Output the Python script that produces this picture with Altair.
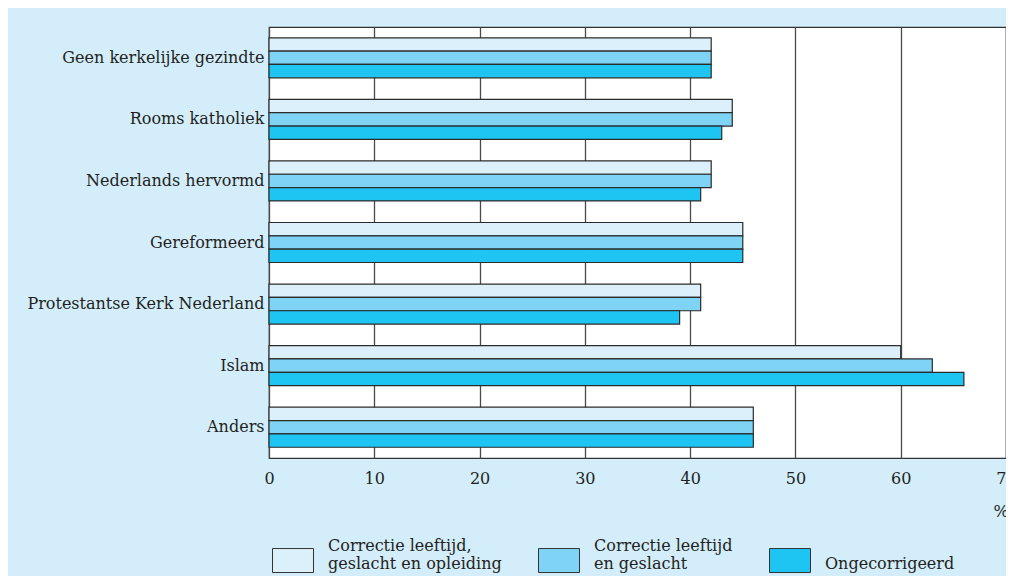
import altair as alt
import pandas as pd

categories = [
    "Geen kerkelijke gezindte",
    "Rooms katholiek",
    "Nederlands hervormd",
    "Gereformeerd",
    "Protestantse Kerk Nederland",
    "Islam",
    "Anders",
]
series = [
    "Correctie leeftijd,\ngeslacht en opleiding",
    "Correctie leeftijd\nen geslacht",
    "\nOngecorrigeerd",
]
vals_corr_all = [42, 44, 42, 45, 41, 60, 46]
vals_corr_lg = [42, 44, 42, 45, 41, 63, 46]
vals_uncorr = [42, 43, 41, 45, 39, 66, 46]
x_ticks = [0, 10, 20, 30, 40, 50, 60, 70]
colors = ["#dcf0fb", "#7fd3f5", "#1ec5f3"]

rows = []
for s, vals in zip(series, [vals_corr_all, vals_corr_lg, vals_uncorr]):
    for c, v in zip(categories, vals):
        rows.append({"category": c, "series": s, "value": v})
df = pd.DataFrame(rows)

FONT = "DejaVu Serif"
FS = 16
TXT = "#231f20"

chart = alt.Chart(df).mark_bar(stroke="#2b2b2b", strokeWidth=1.2).encode(
    x=alt.X(
        "value:Q",
        scale=alt.Scale(domain=[0, 70], nice=False),
        axis=alt.Axis(
            values=x_ticks, grid=True, gridColor="#4a4a4a", gridWidth=1.3,
            ticks=False, domain=False, labelFont=FONT, labelFontSize=FS,
            labelColor=TXT, labelPadding=12, labelFlush=False,
            title="%", titleFont=FONT, titleFontSize=FS, titleFontWeight="normal",
            titleColor=TXT, titleAlign="left", titleBaseline="middle",
            titleX=724, titleY=53, titleAnchor="start",
        ),
    ),
    y=alt.Y(
        "category:N", sort=categories,
        scale=alt.Scale(paddingInner=0.35, paddingOuter=0.175),
        axis=alt.Axis(title=None, ticks=False, domain=False, grid=False,
                      labelPadding=5, labelFont=FONT, labelFontSize=FS,
                      labelColor=TXT, labelLimit=400),
    ),
    yOffset=alt.YOffset("series:N", sort=series,
                        scale=alt.Scale(paddingInner=0, paddingOuter=0)),
    color=alt.Color(
        "series:N", sort=series,
        scale=alt.Scale(domain=series, range=colors),
        legend=alt.Legend(
            title=None, orient="none", legendX=3, legendY=498,
            direction="horizontal", columns=3, columnPadding=34,
            symbolType="M-1,0.1L1,0.1L1,1.27L-1,1.27Z",
            symbolSize=1681, symbolStrokeColor="#333333", symbolStrokeWidth=1,
            symbolOpacity=1, labelFont=FONT, labelFontSize=FS, labelColor=TXT,
            labelOffset=14, labelLimit=400, labelBaseline="middle",
            labelExpr="split(datum.label, '\\n')", padding=0,
        ),
    ),
).properties(
    width=737, height=431,
    autosize=alt.AutoSizeParams(type="none"),
    padding={"left": 261, "top": 19, "right": 0, "bottom": 118},
).configure(
    background="#d3edfa",
).configure_view(
    fill="white", stroke="#333333", strokeWidth=1.2,
)

chart.save("out.html", embed_options={"renderer": "svg", "actions": False})
